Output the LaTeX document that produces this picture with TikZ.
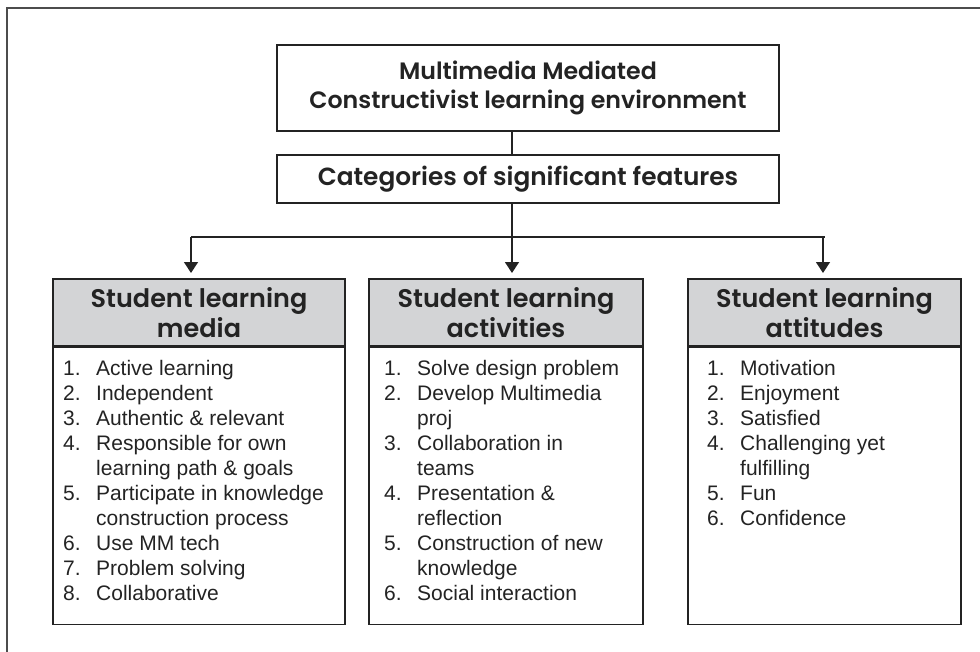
\documentclass[tikz,border=0pt]{standalone}
\usepackage{fontspec}
\setmainfont{Liberation Sans}
\newfontfamily\headfont{Poppins SemiBold}
\usetikzlibrary{arrows.meta}

\definecolor{ink}{RGB}{35,35,35}
\definecolor{headgray}{RGB}{211,212,214}

% numbered list set as a two column table
\newcommand{\itemlist}[1]{\begin{tabular}{@{}p{33pt}@{}l@{}}#1\end{tabular}}

\begin{document}
\begin{tikzpicture}[x=1pt, y=-1pt,
  box/.style={draw=ink, line width=1.3pt, align=center, text=ink, font=\headfont\fontsize{23.7}{28.5}\selectfont},
  head/.style={box, fill=headgray, minimum height=67pt, font=\headfont\fontsize{25.5}{30}\selectfont},
  body/.style={draw=ink, line width=1.3pt, minimum height=277pt, anchor=north},
  listtext/.style={anchor=north west, inner sep=0pt, text=ink, font=\fontsize{21}{25}\selectfont},
  link/.style={draw=ink, line width=1.3pt},
  arrow/.style={link, -{Triangle[width=14pt,length=11pt]}}
]
\useasboundingbox (0,0) rectangle (980,651);
% outer frame, open to the right and below
\draw[gray!60!black, line width=2.5pt] (990,8) -- (7,8) -- (7,660);

\node[box, minimum width=502pt, minimum height=86pt] (env) at (528,88) {Multimedia Mediated\\Constructivist learning environment};
\node[box, minimum width=502pt, minimum height=48pt, font=\headfont\fontsize{24.8}{29}\selectfont] (cat) at (528,179) {Categories of significant features};

% column heads and bodies
\node[head, minimum width=292pt] (media) at (199,312.5) {Student learning\\media};
\node[head, minimum width=274pt] (acts) at (506,312.5) {Student learning\\activities};
\node[head, minimum width=273pt] (attd) at (824.5,312.5) {Student learning\\attitudes};
\node[body, minimum width=292pt] (mediabody) at (media.south) {};
\node[body, minimum width=274pt] (actsbody) at (acts.south) {};
\node[body, minimum width=273pt] (attdbody) at (attd.south) {};

\node[listtext] (medialist) at (63,358) {\itemlist{
1. & Active learning\\
2. & Independent\\
3. & Authentic \& relevant\\
4. & Responsible for own\\
   & learning path \& goals\\
5. & Participate in knowledge\\
   & construction process\\
6. & Use MM tech\\
7. & Problem solving\\
8. & Collaborative}};
\node[listtext] (actslist) at (384,358) {\itemlist{
1. & Solve design problem\\
2. & Develop Multimedia\\
   & proj\\
3. & Collaboration in\\
   & teams\\
4. & Presentation \&\\
   & reflection\\
5. & Construction of new\\
   & knowledge\\
6. & Social interaction}};
\node[listtext] (attdlist) at (707,358) {\itemlist{
1. & Motivation\\
2. & Enjoyment\\
3. & Satisfied\\
4. & Challenging yet\\
   & fulfilling\\
5. & Fun\\
6. & Confidence}};

% Connectors
\coordinate (bus) at (512,237);
\coordinate (tip1) at (191,273);
\coordinate (tip2) at (512,273);
\coordinate (tip3) at (823,273);
\draw[link] (env.south -| bus) -- (cat.north -| bus);
\draw[link] (cat.south -| bus) -- (bus);
\draw[link] (tip1 |- bus) -- ([xshift=2pt]tip3 |- bus);
\draw[arrow] (tip1 |- bus) -- (tip1);
\draw[arrow] (bus) -- (tip2);
\draw[arrow] (tip3 |- bus) -- (tip3);
\end{tikzpicture}
\end{document}
